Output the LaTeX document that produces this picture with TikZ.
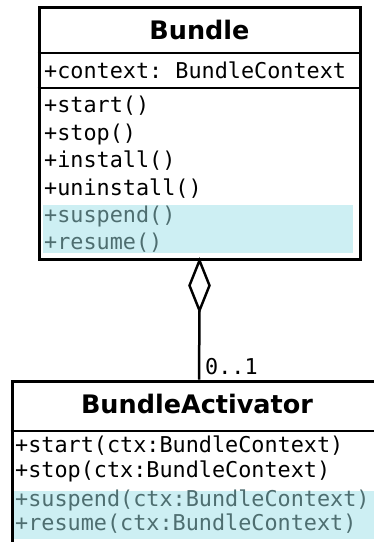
\documentclass[tikz,border=0pt]{standalone}
\usepackage{fontspec}
\setsansfont{DejaVu Sans}
\setmonofont{DejaVu Sans Mono}
\usepackage{xcolor}
\usepackage{tikz}
\usetikzlibrary{positioning, calc}
\definecolor{newcolor}{HTML}{CDEFF3}
\definecolor{newtextcolor}{HTML}{4E6E70}
\newcommand{\membersize}{\fontsize{21.8}{26}\selectfont\ttfamily}
\newcommand{\titlesize}{\fontsize{25.5}{30}\selectfont\sffamily\bfseries}

\begin{document}
\begin{tikzpicture}[x=1pt, y=-1pt]
	\tikzstyle{classbox}=[draw=black, line width=3pt, inner sep=0pt]
	\tikzstyle{sepline}=[draw=black, line width=2.5pt]
	\tikzstyle{member}=[anchor=mid west, inner sep=0pt, yshift=-5pt, font=\membersize]
	\tikzstyle{newmember}=[member, text=newtextcolor]
	\tikzstyle{classtitle}=[inner sep=0pt, font=\titlesize]
	\useasboundingbox (0,0) rectangle (374,542);
	\clip (0,0) rectangle (374,542);

	% Bundle
	\fill[newcolor] (43,205) rectangle (353,253);
	\node (bundle) [classbox, minimum width=321pt, minimum height=252pt] at (199.5,133) {};
	\draw[sepline] (bundle.west |- 0,53) -- (bundle.east |- 0,53);
	\draw[sepline] (bundle.west |- 0,88) -- (bundle.east |- 0,88);
	\node (bundletitle) [classtitle] at (199.5,30) {Bundle};
	\node (context) [member] at (44,71) {+context: BundleContext};
	\foreach \y/\name in {105/start, 133/stop, 160/install, 188/uninstall}
		\node (b\name) [member] at (44,\y) {+\name()};
	\foreach \y/\name in {215/suspend, 242/resume}
		\node (b\name) [newmember] at (44,\y) {+\name()};

	% BundleActivator
	\fill[newcolor] (14,491) rectangle (400,539);
	\node (activator) [classbox, minimum width=374pt, minimum height=189pt] at (199,475.5) {};
	\draw[sepline] (activator.west |- 0,431) -- (activator.east |- 0,431);
	\node (activatortitle) [classtitle] at (197,404) {BundleActivator};
	\foreach \y/\name in {445/start, 470/stop}
		\node (a\name) [member] at (15,\y) {+\name(ctx:BundleContext)};
	\foreach \y/\name in {499/suspend, 523/resume}
		\node (a\name) [newmember] at (15,\y) {+\name(ctx:BundleContext)};

	% aggregation
	\draw[line width=2.5pt, fill=white, line join=miter] (bundle.south) -- ++(10,25) -- ++(-10,25) coordinate (aggtip) -- ++(-10,-25) -- cycle;
	\draw[line width=2.5pt] (aggtip) -- (activator.north);
	\node (mult) [member] at (205,367) {0..1};
\end{tikzpicture}
\end{document}
